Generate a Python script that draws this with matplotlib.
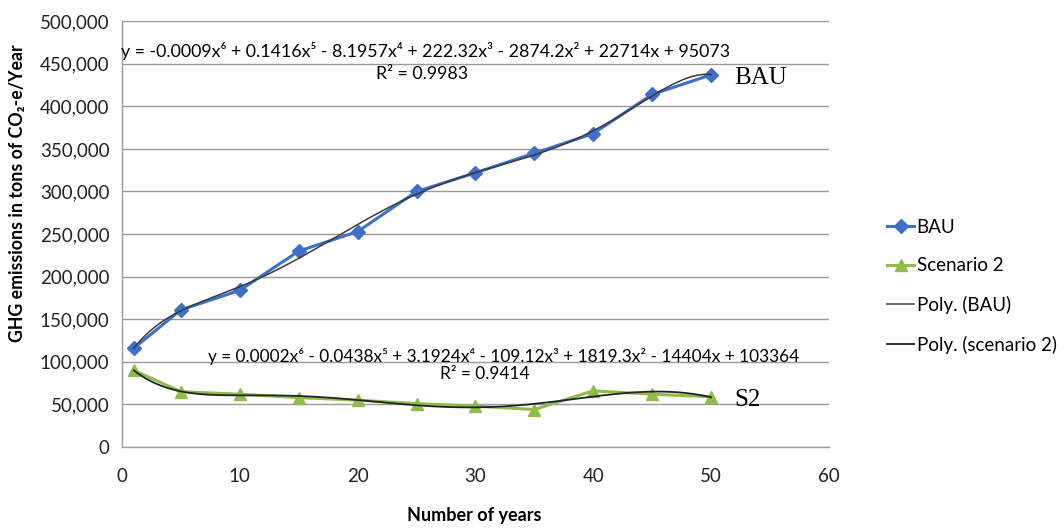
import numpy as np
import matplotlib.pyplot as plt

years = [1, 5, 10, 15, 20, 25, 30, 35, 40, 45, 50]
bau = [116000, 161000, 184000, 230000, 253000, 300000, 322000, 345000, 368000, 414000, 437000]
scenario2 = [90000, 65000, 62000, 58000, 55000, 51000, 48000, 44000, 66000, 62000, 59000]

eq_bau = "y = -0.0009x⁶ + 0.1416x⁵ - 8.1957x⁴ + 222.32x³ - 2874.2x² + 22714x + 95073"
r2_bau = "R² = 0.9983"
eq_s2 = "y = 0.0002x⁶ - 0.0438x⁵ + 3.1924x⁴ - 109.12x³ + 1819.3x² - 14404x + 103364"
r2_s2 = "R² = 0.9414"

fam = ["Lato", "DejaVu Sans"]
plt.rcParams["font.family"] = fam

fig = plt.figure(figsize=(10.64, 5.29), dpi=100)
ax = fig.add_axes([0.1147, 0.155, 0.6643, 0.805])

ax.plot(years, bau, color="#3f6fc6", lw=2.2, marker="D", ms=7, label="BAU", zorder=3)
ax.plot(years, scenario2, color="#8fbc4a", lw=2.2, marker="^", ms=8, label="Scenario 2", zorder=3)

# 6th order polynomial trendlines
xs = np.linspace(1, 50, 300)
p_bau = np.polyfit(years, bau, 6)
p_s2 = np.polyfit(years, scenario2, 6)
ax.plot(xs, np.polyval(p_bau, xs), color="#3a3a3a", lw=1.1, label="Poly. (BAU)", zorder=4)
ax.plot(xs, np.polyval(p_s2, xs), color="#222222", lw=1.3, label="Poly. (scenario 2)", zorder=4)

ax.set_xlim(0, 60)
ax.set_ylim(0, 500000)
ax.set_xticks(range(0, 61, 10))
ax.set_yticks(range(0, 500001, 50000))
ax.yaxis.set_major_formatter(plt.FuncFormatter(lambda v, p: f"{int(v):,}"))
ax.tick_params(length=0, labelsize=13.5, colors="#222222", pad=9)
ax.tick_params(axis="x", pad=15)
ax.grid(axis="y", color="#9a9a9a", lw=1)
ax.set_axisbelow(True)
for s in ["top", "right"]:
    ax.spines[s].set_visible(False)
for s in ["left", "bottom"]:
    ax.spines[s].set_color("#9a9a9a")
    ax.spines[s].set_linewidth(1)

ax.set_xlabel("Number of years", fontsize=13, fontweight="bold")
ax.xaxis.set_label_coords(0.499, -0.16)
ax.set_ylabel("GHG emissions in tons of CO₂-e/Year", fontsize=12.8, fontweight="bold")
ax.yaxis.set_label_coords(-0.148, 0.596)
ax.xaxis.label.set_va("center")
ax.yaxis.label.set_va("center")

ax.text(25.8, 465000, eq_bau, fontsize=12.8, ha="center", va="center", family=fam)
ax.text(25.5, 438000, r2_bau, fontsize=12.8, ha="center", va="center", family=fam)
ax.text(32.4, 106500, eq_s2, fontsize=12.4, ha="center", va="center", family=fam)
ax.text(30.8, 86000, r2_s2, fontsize=12.4, ha="center", va="center", family=fam)

ax.text(52, 433000, "BAU", fontsize=18, family="Liberation Serif", ha="left", va="center")
ax.text(52, 55000, "S2", fontsize=18, family="Liberation Serif", ha="left", va="center")

fig.legend(loc="center left", bbox_to_anchor=(0.818, 0.459), frameon=False, fontsize=13.5,
           labelspacing=1.15, handlelength=1.45, handletextpad=0.12)

fig.savefig("out.png", dpi=100)
